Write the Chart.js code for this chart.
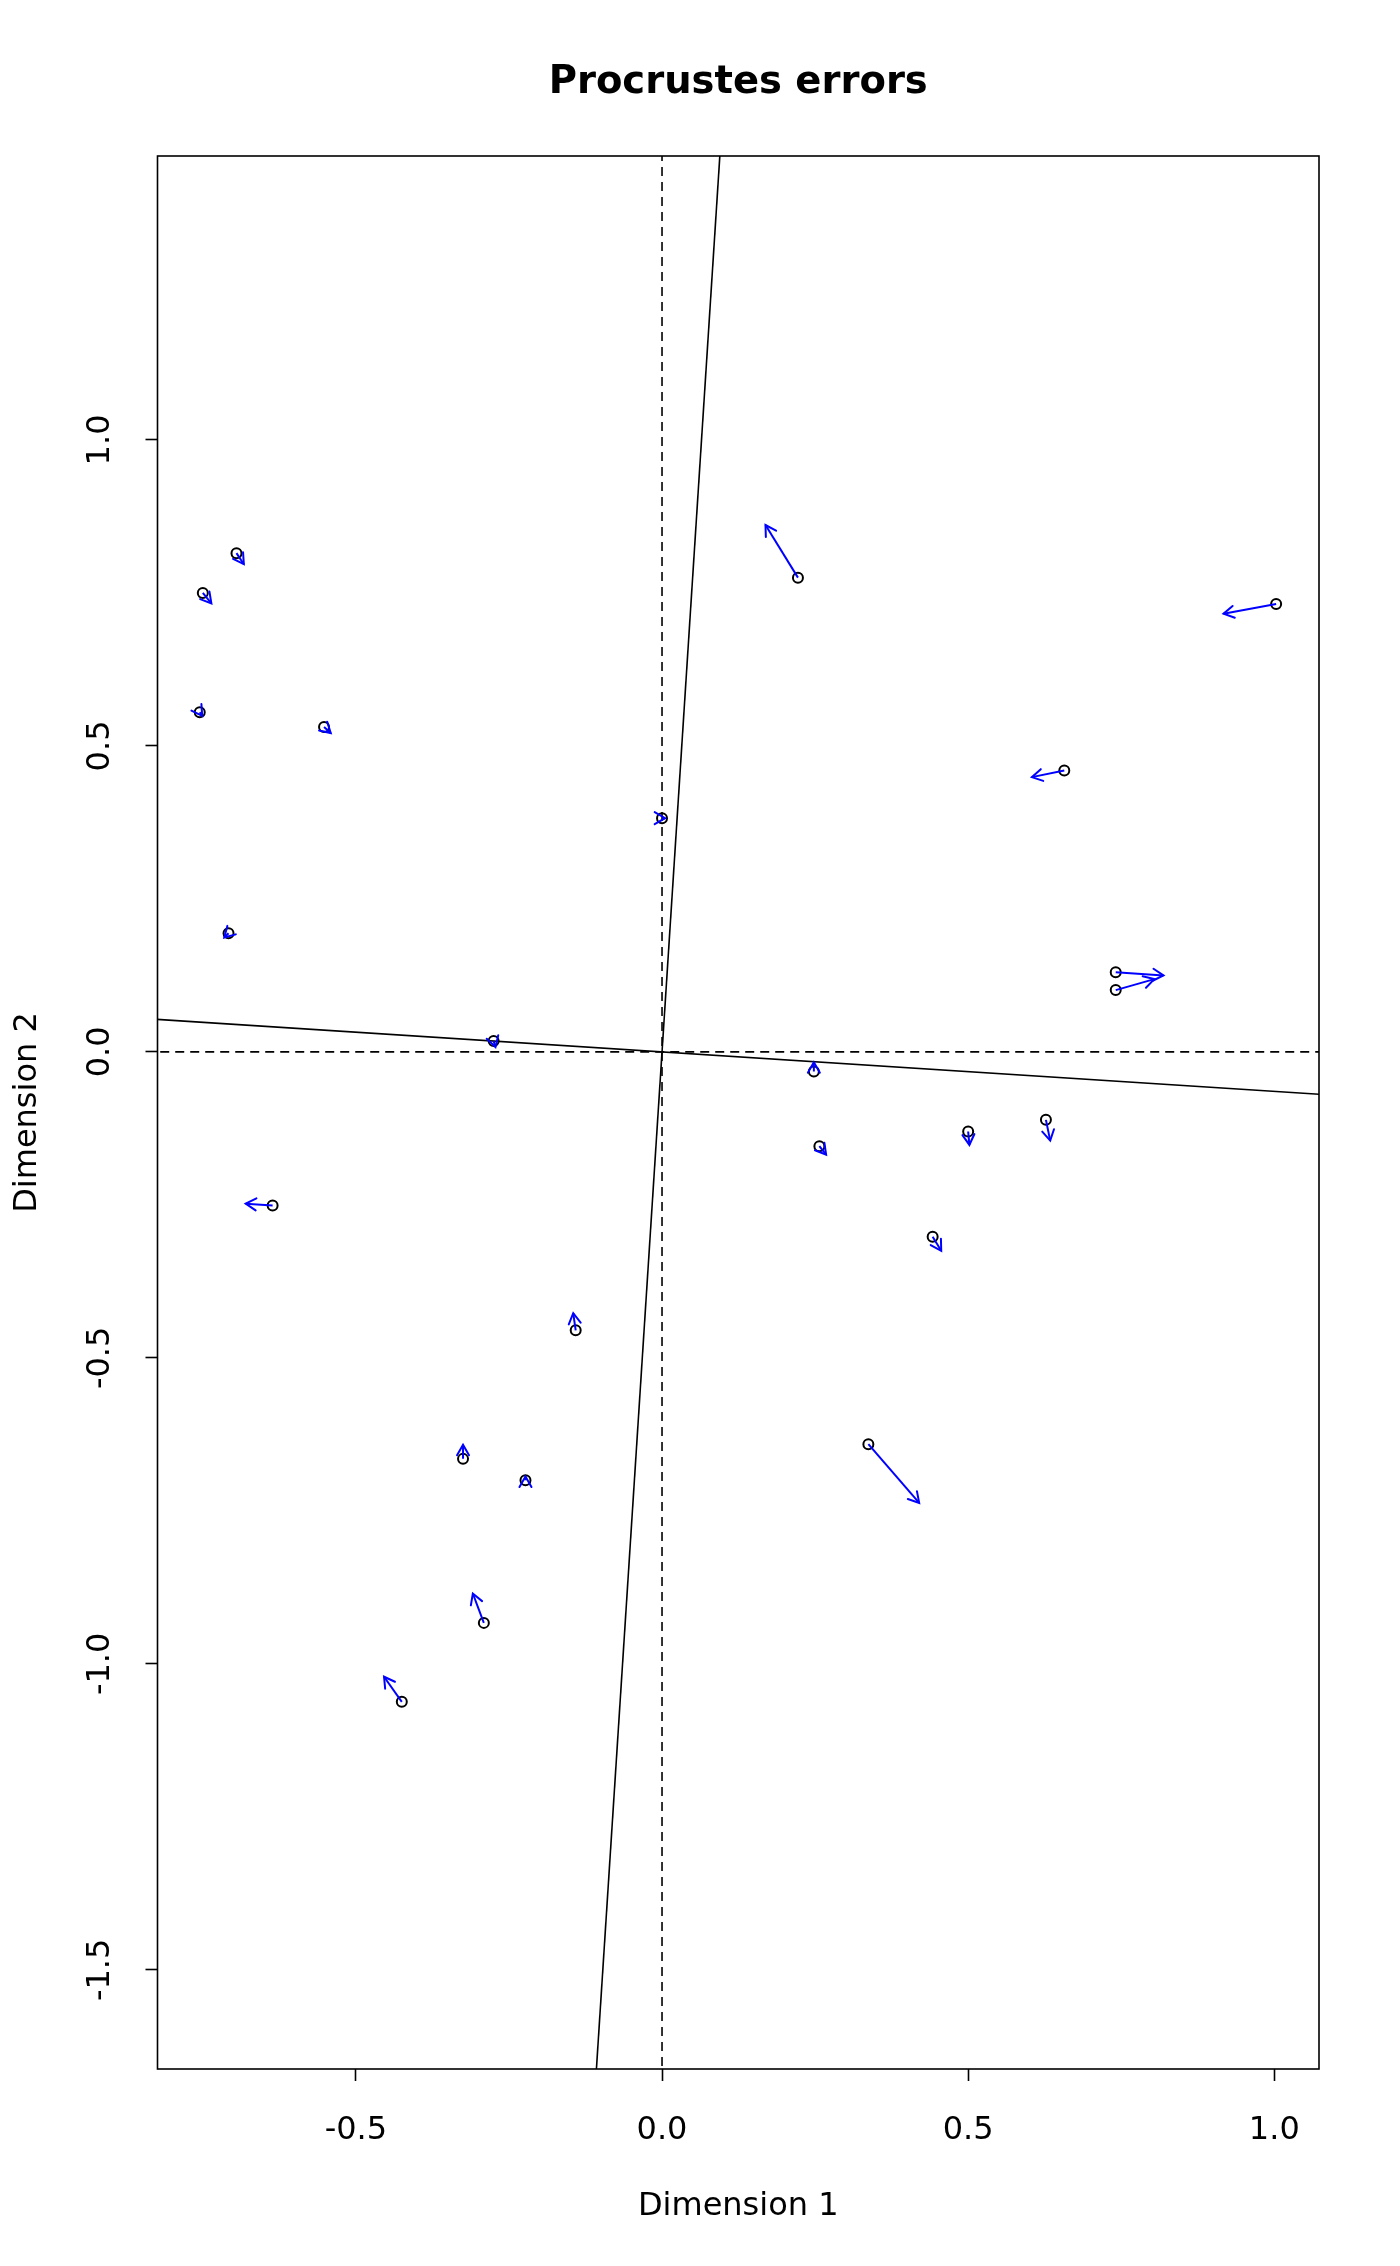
<!DOCTYPE html>
<html>
<head>
<meta charset="utf-8">
<title>Procrustes errors</title>
<script src="https://cdn.jsdelivr.net/npm/chart.js@4.4.1/dist/chart.umd.min.js"></script>
<style>
html, body { margin: 0; padding: 0; background: #fff; }
#wrap { width: 1400px; height: 2266px; position: relative; }
</style>
</head>
<body>
<div id="wrap"><canvas id="procChart"></canvas></div>
<script>

// target configuration (circles)
const dim1 = [-0.695, -0.750, -0.755, -0.552, -0.708, -0.275, -0.636, 0.000,
              0.222, 1.003, 0.657, 0.741, 0.741, 0.248, 0.257, 0.500,
              0.627, 0.442, -0.141, 0.337, -0.325, -0.223, -0.291, -0.425];
const dim2 = [0.815, 0.750, 0.555, 0.531, 0.194, 0.018, -0.251, 0.382,
              0.775, 0.732, 0.460, 0.130, 0.101, -0.032, -0.154, -0.130,
              -0.111, -0.302, -0.455, -0.641, -0.665, -0.700, -0.933, -1.062];

// rotated configuration (arrow tips)
const rot1 = [-0.683, -0.736, -0.751, -0.541, -0.715, -0.272, -0.680, 0.005,
              0.169, 0.917, 0.604, 0.819, 0.804, 0.248, 0.268, 0.502,
              0.634, 0.456, -0.145, 0.420, -0.325, -0.223, -0.309, -0.454];
const rot2 = [0.797, 0.733, 0.549, 0.521, 0.187, 0.008, -0.248, 0.382,
              0.861, 0.716, 0.449, 0.125, 0.119, -0.017, -0.168, -0.152,
              -0.145, -0.325, -0.427, -0.737, -0.642, -0.694, -0.885, -1.021];

const xTicks = [-0.5, 0.0, 0.5, 1.0];
const yTicks = [-1.5, -1.0, -0.5, 0.0, 0.5, 1.0];
const xLimits = [-0.824, 1.073];
const yLimits = [-1.662, 1.464];

// rotation of the axes, degrees
const rotAngle = 3.69;

const fontFamily = "'DejaVu Sans', sans-serif";

const th = rotAngle * Math.PI / 180;
const far = 4;

let datasets = [];

// arrows (shafts)
for (let i = 0; i < dim1.length; i++) {
    datasets.push({
        data: [{x: dim1[i], y: dim2[i]}, {x: rot1[i], y: rot2[i]}],
        showLine: true,
        borderColor: "#0000ff",
        borderWidth: 2,
        pointRadius: 0,
        pointHoverRadius: 0,
        order: 0
    });
}

// circles
datasets.push({
    data: dim1.map((v, i) => ({x: v, y: dim2[i]})),
    pointStyle: "circle",
    pointRadius: 5,
    pointHoverRadius: 5,
    pointBorderWidth: 2,
    pointBorderColor: "#000",
    pointBackgroundColor: "rgba(0,0,0,0)",
    showLine: false,
    order: 1
});

// dashed origin lines
datasets.push({
    data: [{x: 0, y: yLimits[0] - 1}, {x: 0, y: yLimits[1] + 1}],
    showLine: true, borderColor: "#000", borderWidth: 1.6,
    borderDash: [9, 6], pointRadius: 0, order: 2
});
datasets.push({
    data: [{x: xLimits[0] - 1, y: 0}, {x: xLimits[1] + 1, y: 0}],
    showLine: true, borderColor: "#000", borderWidth: 1.6,
    borderDash: [9, 6], pointRadius: 0, order: 2
});

// rotated axes
datasets.push({
    data: [{x: -far * Math.cos(th), y: far * Math.sin(th)}, {x: far * Math.cos(th), y: -far * Math.sin(th)}],
    showLine: true, borderColor: "#000", borderWidth: 1.6, pointRadius: 0, order: 2
});
datasets.push({
    data: [{x: -far * Math.sin(th), y: -far * Math.cos(th)}, {x: far * Math.sin(th), y: far * Math.cos(th)}],
    showLine: true, borderColor: "#000", borderWidth: 1.6, pointRadius: 0, order: 2
});


const extras = {
    id: "extras",
    afterDatasetsDraw(chart) {
        const ctx = chart.ctx;
        const xs = chart.scales.x;
        const ys = chart.scales.y;
        ctx.save();
        ctx.strokeStyle = "#0000ff";
        ctx.lineWidth = 2;
        ctx.lineCap = "round";
        for (let i = 0; i < dim1.length; i++) {
            let x1 = xs.getPixelForValue(dim1[i]);
            let y1 = ys.getPixelForValue(dim2[i]);
            let x2 = xs.getPixelForValue(rot1[i]);
            let y2 = ys.getPixelForValue(rot2[i]);
            let a = Math.atan2(y2 - y1, x2 - x1);
            let len = 12;
            ctx.beginPath();
            ctx.moveTo(x2 - len * Math.cos(a - Math.PI / 6), y2 - len * Math.sin(a - Math.PI / 6));
            ctx.lineTo(x2, y2);
            ctx.lineTo(x2 - len * Math.cos(a + Math.PI / 6), y2 - len * Math.sin(a + Math.PI / 6));
            ctx.stroke();
        }
        ctx.restore();
    },
    afterDraw(chart) {
        const ctx = chart.ctx;
        const area = chart.chartArea;
        const ys = chart.scales.y;
        ctx.save();

        // box
        ctx.strokeStyle = "#000";
        ctx.lineWidth = 1.6;
        ctx.strokeRect(area.left, area.top, area.right - area.left, area.bottom - area.top);

        // title
        ctx.fillStyle = "#000";
        ctx.font = "bold 38.5px " + fontFamily;
        ctx.textAlign = "center";
        ctx.textBaseline = "middle";
        ctx.fillText("Procrustes errors", (area.left + area.right) / 2, 83);

        // y tick labels, turned like R does
        ctx.font = "32px " + fontFamily;
        ys.ticks.forEach(t => {
            let py = ys.getPixelForValue(t.value);
            ctx.save();
            ctx.translate(101, py);
            ctx.rotate(-Math.PI / 2);
            ctx.fillText(t.value.toFixed(1), 0, 0);
            ctx.restore();
        });
        ctx.restore();
    }
};


new Chart(document.getElementById("procChart"), {
    type: "scatter",
    data: { datasets: datasets },
    plugins: [extras],
    options: {
        responsive: true,
        maintainAspectRatio: false,
        devicePixelRatio: 1,
        animation: false,
        layout: {
            padding: { top: 156, right: 81, left: 0, bottom: 0 }
        },
        plugins: {
            legend: { display: false },
            tooltip: { enabled: false },
            title: { display: false }
        },
        scales: {
            x: {
                type: "linear",
                min: xLimits[0],
                max: xLimits[1],
                afterBuildTicks: s => { s.ticks = xTicks.map(v => ({value: v})); },
                afterFit: s => { s.height = 197; },
                border: { display: false },
                grid: {
                    drawOnChartArea: false,
                    drawTicks: true,
                    tickLength: 12,
                    tickColor: "#000",
                    tickWidth: 1.6
                },
                ticks: {
                    color: "#000",
                    font: { family: fontFamily, size: 32 },
                    padding: 30,
                    maxRotation: 0,
                    autoSkip: false,
                    callback: v => v.toFixed(1)
                },
                title: {
                    display: true,
                    text: "Dimension 1",
                    color: "#000",
                    font: { family: fontFamily, size: 32 },
                    padding: { top: 0, bottom: 40 }
                }
            },
            y: {
                type: "linear",
                min: yLimits[0],
                max: yLimits[1],
                afterBuildTicks: s => { s.ticks = yTicks.map(v => ({value: v})); },
                afterFit: s => { s.width = 157.5; },
                border: { display: false },
                grid: {
                    drawOnChartArea: false,
                    drawTicks: true,
                    tickLength: 12,
                    tickColor: "#000",
                    tickWidth: 1.6
                },
                ticks: {
                    display: false
                },
                title: {
                    display: true,
                    text: "Dimension 2",
                    color: "#000",
                    font: { family: fontFamily, size: 32 },
                    padding: { top: 8, bottom: 0 }
                }
            }
        }
    }
});

</script>
</body>
</html>
